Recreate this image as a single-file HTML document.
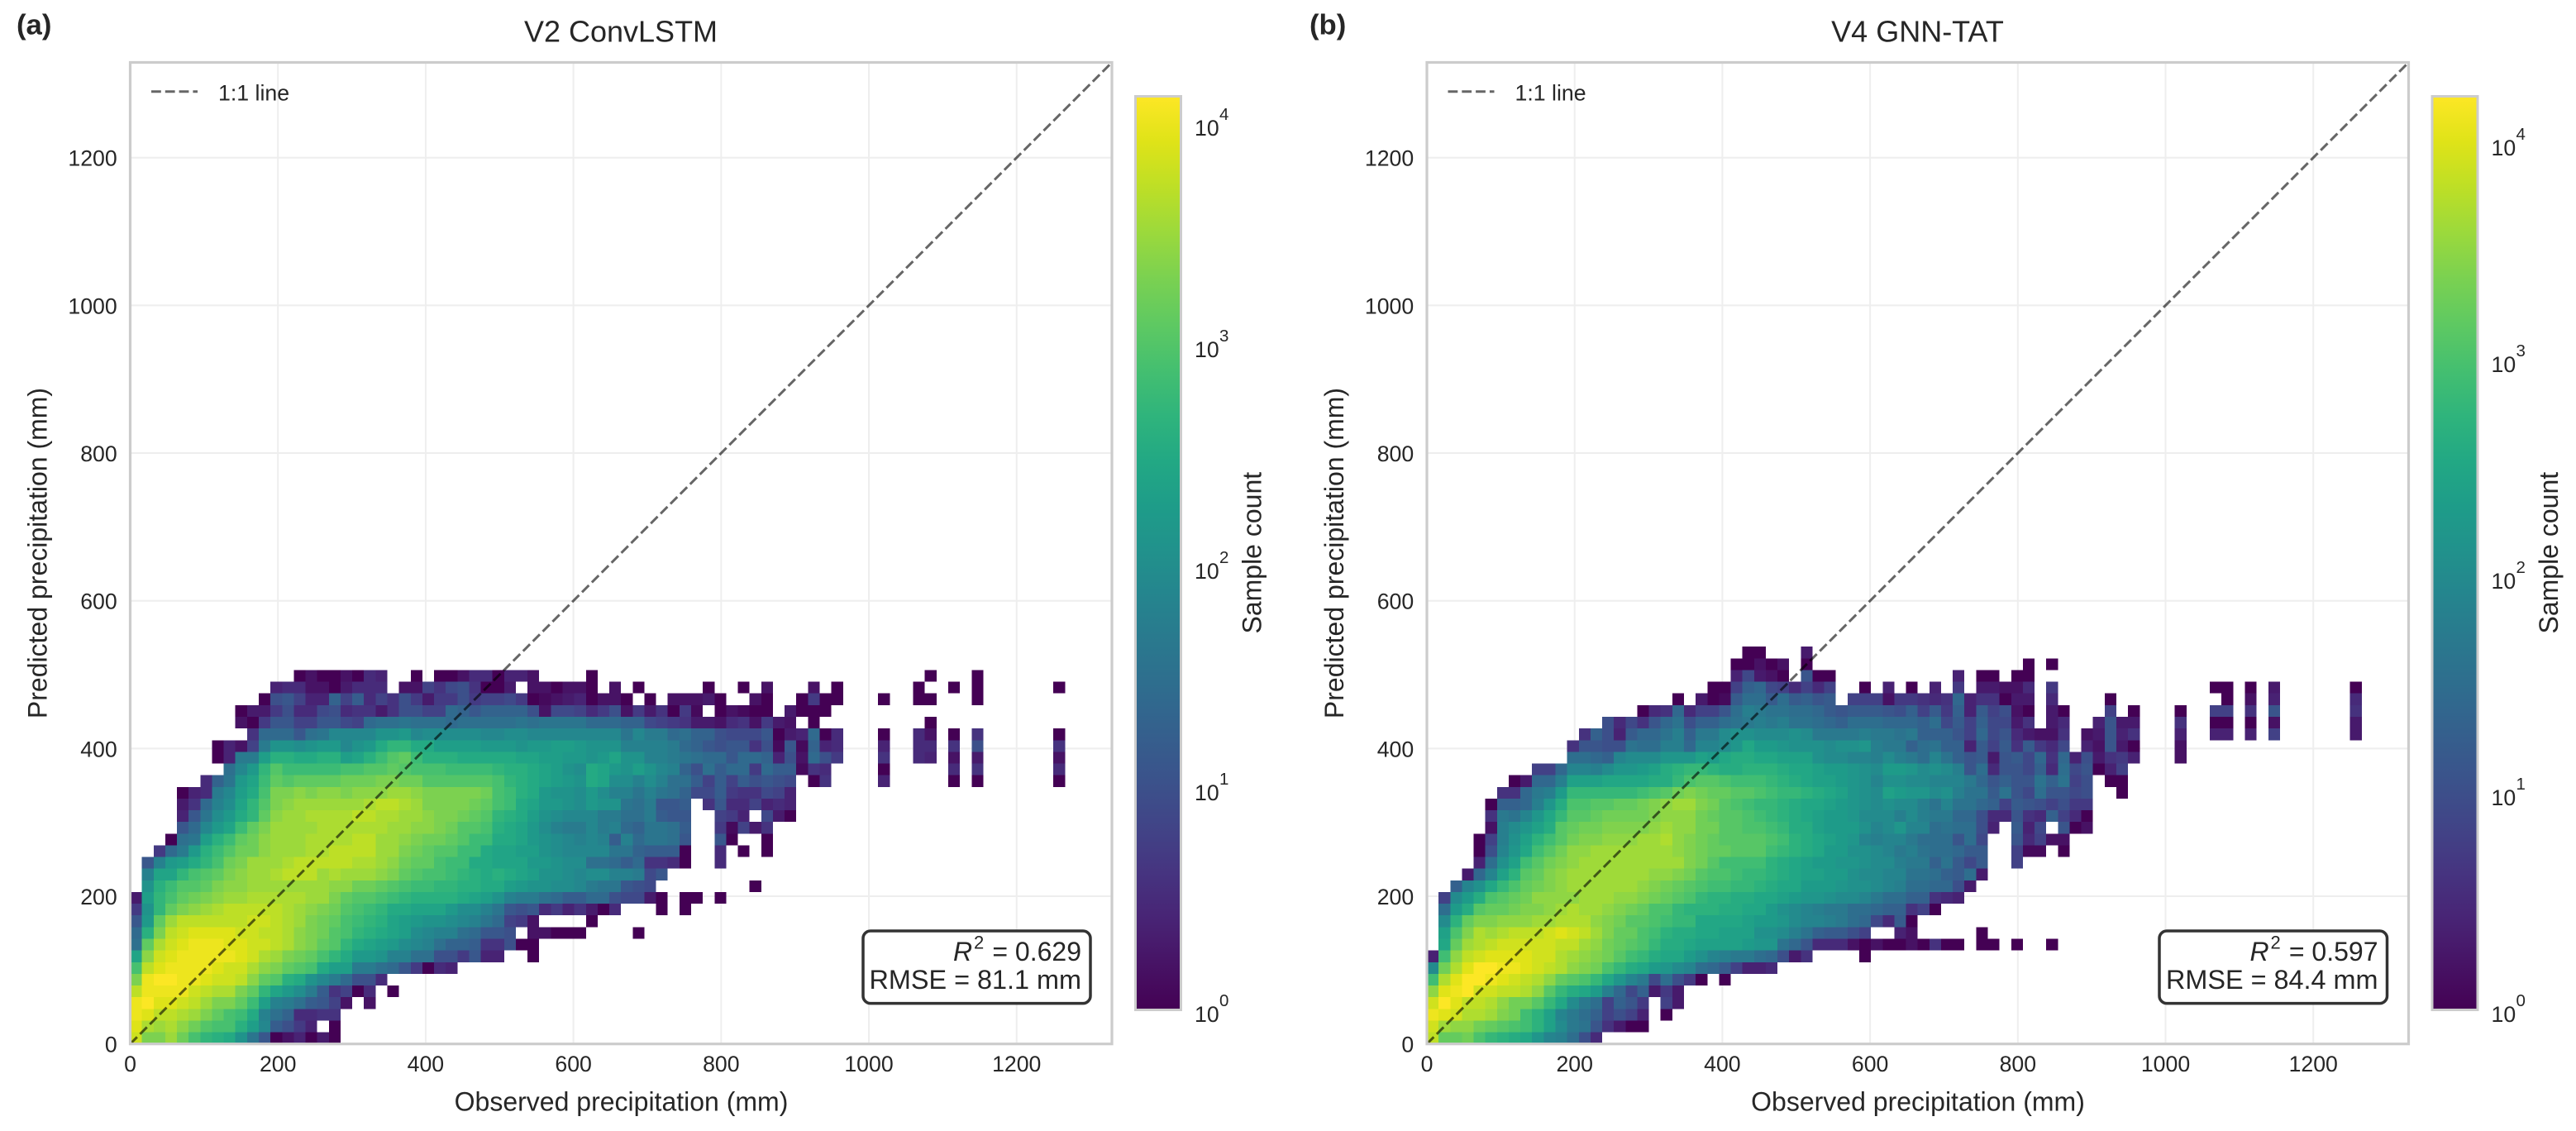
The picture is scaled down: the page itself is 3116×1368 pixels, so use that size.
<!DOCTYPE html>
<html lang="en">
<head>
<meta charset="utf-8">
<title>Observed vs predicted precipitation density</title>
<style>
html,body{margin:0;padding:0;background:#fff;}
svg{display:block;}
text{font-family:"Liberation Sans",Arial,sans-serif;fill:#262626;}
</style>
</head>
<body>
<svg id="figure" xmlns="http://www.w3.org/2000/svg" width="3116" height="1368" viewBox="0 0 3116 1368">
  <defs>
    <linearGradient id="viridis-gradient" x1="0" y1="1" x2="0" y2="0"></linearGradient>
  </defs>
  <rect x="0" y="0" width="3116" height="1368" fill="#ffffff"/>

  <g id="marks-a"></g>
  <g id="marks-b"></g>

  <!-- Panel A static furniture -->
  <g>
    <rect x="157.5" y="75.5" width="1187.5" height="1187.2" fill="none" stroke="#cccccc" stroke-width="3.2"/>
    <text x="20" y="41.7" font-size="34.7" font-weight="bold">(a)</text>
    <text x="751" y="50.7" font-size="36" text-anchor="middle">V2 ConvLSTM</text>
    <text x="751.5" y="1343.3" font-size="32" text-anchor="middle">Observed precipitation (mm)</text>
    <text transform="translate(56.7 669) rotate(-90)" font-size="32" text-anchor="middle">Predicted precipitation (mm)</text>
    <line x1="183" y1="110.7" x2="239" y2="110.7" stroke="#000" stroke-opacity="0.6" stroke-width="3" stroke-dasharray="11.8 5"/>
    <text x="264" y="121.7" font-size="26.7">1:1 line</text>
    <rect x="1044" y="1126" width="275" height="87.6" rx="9" ry="9" fill="#ffffff" stroke="#333333" stroke-width="3.5"/>
    <text x="1153" y="1161.8" font-size="32" font-style="italic">R</text>
    <text x="1178" y="1147.5" font-size="22">2</text>
    <text x="1308" y="1161.8" font-size="32" text-anchor="end">= 0.629</text>
    <text x="1308" y="1196" font-size="32.4" text-anchor="end">RMSE = 81.1 mm</text>
    <rect x="1373.5" y="116.5" width="55" height="1105" fill="url(#viridis-gradient)" stroke="#cccccc" stroke-width="3"/>
    <text transform="translate(1525.7 668.7) rotate(-90)" font-size="32" text-anchor="middle">Sample count</text>
  </g>

  <!-- Panel B static furniture -->
  <g>
    <rect x="1726" y="75.5" width="1187.5" height="1187.2" fill="none" stroke="#cccccc" stroke-width="3.2"/>
    <text x="1584" y="41.7" font-size="34.7" font-weight="bold">(b)</text>
    <text x="2319.5" y="50.7" font-size="36" text-anchor="middle">V4 GNN-TAT</text>
    <text x="2320" y="1343.3" font-size="32" text-anchor="middle">Observed precipitation (mm)</text>
    <text transform="translate(1625.2 669) rotate(-90)" font-size="32" text-anchor="middle">Predicted precipitation (mm)</text>
    <line x1="1751.5" y1="110.7" x2="1807.5" y2="110.7" stroke="#000" stroke-opacity="0.6" stroke-width="3" stroke-dasharray="11.8 5"/>
    <text x="1832.5" y="121.7" font-size="26.7">1:1 line</text>
    <rect x="2612" y="1126" width="275.5" height="87.6" rx="9" ry="9" fill="#ffffff" stroke="#333333" stroke-width="3.5"/>
    <text x="2721.5" y="1161.8" font-size="32" font-style="italic">R</text>
    <text x="2746.5" y="1147.5" font-size="22">2</text>
    <text x="2876.5" y="1161.8" font-size="32" text-anchor="end">= 0.597</text>
    <text x="2876.5" y="1196" font-size="32.4" text-anchor="end">RMSE = 84.4 mm</text>
    <rect x="2942" y="116.5" width="55" height="1105" fill="url(#viridis-gradient)" stroke="#cccccc" stroke-width="3"/>
    <text transform="translate(3094.2 668.7) rotate(-90)" font-size="32" text-anchor="middle">Sample count</text>
  </g>
  <g id="ticks-cb"></g>
</svg>

<script>
// ---- chart data ----
const xTickValues = [0, 200, 400, 600, 800, 1000, 1200];
const yTickValues = [0, 200, 400, 600, 800, 1000, 1200];
const colorbarExponents = [0, 1, 2, 3, 4];
const axisLimit = 1329;
const binWidth = 15.82;
const _ = null;

// Each row = one predicted-precipitation bin (bottom to top); each entry = one observed bin.
// Value = 10 * log10(sample count); _ = empty bin.
const logCountsA = [
[38,33,33,35,32,29,27,26,25,21,16,11,0,2,4,0,3,0],
[39,36,35,36,34,32,30,29,29,26,23,19,12,10,7,4,_,0],
[40,39,37,37,36,35,33,31,29,28,25,18,15,13,5,5,6,6],
[40,41,39,39,38,37,35,33,33,31,28,23,18,17,15,12,11,8,2,_,2],
[37,40,40,40,40,38,37,36,36,33,31,27,24,22,20,17,12,6,8,0,5,_,0],
[33,40,41,41,40,40,39,38,38,37,34,31,30,26,25,21,19,17,14,10,10,5],
[29,37,39,40,40,40,40,39,38,38,36,34,33,31,30,29,25,23,23,17,17,15,14,11,7,0,5,4],
[24,34,38,39,40,40,40,40,40,39,38,36,35,33,32,31,29,27,25,22,22,21,18,18,15,15,10,10,7,11,4,4,_,_,0],
[15,31,36,38,39,40,40,40,39,39,38,38,37,36,34,33,31,30,27,25,24,23,22,20,19,18,15,13,13,12,6,6,10,0,0],
[14,26,33,37,38,39,39,39,39,38,38,37,37,36,34,33,32,30,29,27,26,25,24,23,20,19,18,18,15,14,11,11,10,_,2,2,0,0,0,_,_,_,_,0],
[11,22,31,35,37,37,37,37,37,37,38,38,37,36,35,33,32,31,29,28,27,26,24,23,22,21,21,20,19,18,16,14,8,7,2,_,_,_,_,0],
[7,21,27,31,33,34,35,36,37,37,37,37,37,36,35,34,33,32,30,29,28,27,25,25,24,24,24,22,20,20,18,16,11,10,11,5,7,4,6,3,0,5,_,_,_,0,_,0],
[3,23,27,29,31,32,33,34,35,35,36,36,36,36,36,35,35,33,31,30,30,29,28,27,26,26,26,26,25,24,23,21,18,17,17,15,14,12,12,14,14,10,9,9,3,0,_,0,0,_,0],
[_,21,26,28,30,30,31,33,34,34,35,35,35,35,35,35,35,34,34,32,32,31,30,29,28,28,27,27,26,26,25,25,23,22,21,21,20,20,19,17,16,16,11,10,9,_,_,_,_,_,_,_,_,0],
[_,18,24,24,27,29,30,31,33,34,35,35,36,37,37,37,35,36,35,35,35,34,33,31,30,29,29,28,27,26,25,26,25,24,23,21,21,20,19,20,20,18,18,17,9,11],
[_,11,18,22,23,25,27,29,32,33,35,35,35,36,37,37,37,37,37,36,36,35,34,32,31,31,29,28,28,25,25,24,24,24,22,22,21,20,20,15,15,14,12,14,6,6,5,0,_,_,5],
[_,_,7,14,17,22,26,28,30,32,32,34,35,35,35,36,36,37,37,37,37,35,35,33,32,31,30,30,28,28,25,24,24,23,23,21,20,19,19,19,19,16,16,13,12,12,12,0,_,_,5,_,0,_,0],
[_,_,_,0,15,16,23,26,28,31,32,34,35,35,35,36,36,36,36,37,37,35,35,34,33,32,32,31,30,28,28,25,25,24,22,21,20,19,18,19,18,12,18,14,16,16,15,11,_,_,11,0,_,_,0],
[_,_,_,_,11,14,19,22,24,28,31,33,35,35,35,35,36,36,36,36,36,36,35,35,34,34,33,32,30,30,29,26,25,24,22,20,18,17,17,19,17,18,14,13,16,16,15,12,_,_,7,1,8,3,6],
[_,_,_,_,4,11,16,20,22,25,27,31,34,35,35,36,36,36,36,37,37,36,36,35,35,34,33,33,32,31,30,27,26,25,23,21,20,19,19,19,17,17,15,15,17,12,11,11,_,_,8,7,4,_,9,3,0],
[_,_,_,_,3,6,14,18,20,24,27,30,33,34,35,35,35,35,35,35,36,37,37,36,35,33,33,33,33,32,31,29,28,25,24,22,22,21,20,22,21,21,16,15,17,11,11,12,_,6,11,5,5,8,4,5,4],
[_,_,_,_,0,4,5,17,19,23,25,29,33,33,34,33,34,34,33,34,34,34,35,35,34,33,33,33,33,33,32,29,28,26,25,22,21,21,20,22,20,18,18,16,18,16,15,13,9,9,12,7,6,6,9,8,4],
[_,_,_,_,_,_,5,13,16,22,24,28,31,30,31,31,31,31,32,32,32,33,33,32,32,30,30,30,30,30,30,29,27,26,25,24,23,22,21,25,24,20,20,18,20,18,15,15,12,8,12,8,12,10,11,10,9,_,0,6,_,_,_,_,4,_,_,_,_,_,0,_,0,_,_,_,_,_,_,0],
[_,_,_,_,_,_,_,_,15,19,22,27,30,28,28,28,28,28,29,29,30,30,31,30,29,29,29,28,28,28,28,27,26,26,25,24,23,21,20,25,24,22,21,23,21,19,18,13,10,15,12,14,14,7,14,12,12,1,6,5,_,_,_,_,0,_,_,_,_,_,5,_,6,_,_,_,_,_,_,5],
[_,_,_,_,_,_,_,0,4,17,17,23,26,26,25,25,26,26,23,24,26,28,30,31,28,26,26,26,25,25,25,25,25,24,24,23,23,22,22,21,22,24,21,21,18,18,17,16,15,14,14,11,14,14,13,4,10,2,14,10,7,_,_,_,6,_,_,5,4,_,2,_,3,_,_,_,_,_,_,2],
[_,_,_,_,_,_,_,0,4,2,8,17,21,21,20,21,22,22,19,21,22,25,27,27,25,25,23,23,23,23,22,22,22,21,22,22,23,23,22,21,21,21,18,18,18,18,17,14,13,11,10,11,11,6,10,1,11,1,13,4,5,_,_,_,4,_,_,5,5,_,6,_,10,_,_,_,_,_,_,6],
[_,_,_,_,_,_,_,_,_,_,6,14,14,14,11,15,16,19,19,19,19,21,21,22,19,20,20,20,20,20,19,19,20,20,19,19,19,19,19,19,19,19,16,19,17,17,14,15,13,13,10,9,9,9,11,0,3,4,14,0,5,_,_,_,0,_,_,5,2,_,0,_,6,_,_,_,_,_,_,0],
[_,_,_,_,_,_,_,_,_,2,0,7,11,11,8,8,11,11,9,8,14,15,15,16,15,15,15,14,15,15,15,15,15,16,15,16,16,16,16,14,14,14,13,13,9,8,7,6,3,3,2,5,6,2,7,3,2,_,0,_,_,_,_,_,_,_,_,_,0],
[_,_,_,_,_,_,_,_,_,0,3,3,7,10,5,5,9,10,5,6,6,3,6,10,10,8,8,14,13,11,13,13,13,13,10,2,9,9,8,5,7,10,2,7,3,6,0,7,1,_,0,2,1,0,0,_,3,0,0,0],
[_,_,_,_,_,_,_,_,_,_,_,0,10,11,8,4,4,13,8,12,5,8,6,10,7,3,7,7,10,7,8,8,9,7,0,1,2,3,4,0,2,2,0,_,0,_,2,2,2,3,0,_,_,2,0,_,_,0,7,0,0,_,_,_,0,_,_,0,0,_,_,_,0],
[_,_,_,_,_,_,_,_,_,_,_,_,4,5,5,2,2,0,3,5,5,5,_,2,2,8,6,9,10,6,0,0,3,_,2,2,0,2,2,0,_,2,_,0,_,_,_,_,_,0,_,_,0,_,2,_,_,_,2,_,0,_,_,_,_,_,_,0,_,_,0,_,0,_,_,_,_,_,_,0],
[_,_,_,_,_,_,_,_,_,_,_,_,_,_,0,2,0,0,2,0,5,4,_,_,0,_,0,0,2,5,5,0,4,4,2,_,_,_,_,0,_,_,_,_,_,_,_,_,_,_,_,_,_,_,_,_,_,_,_,_,_,_,_,_,_,_,_,_,0,_,_,_,0]
];

const logCountsB = [
[38,32,32,33,30,28,27,26,25,22,19,18,15,10,5],
[39,36,35,35,33,32,31,30,29,27,24,20,17,16,11,6,3,0,0],
[41,40,39,37,37,36,34,33,29,27,24,19,17,15,13,8,10,8,4,_,0],
[39,42,40,38,38,37,35,33,33,31,28,25,20,17,15,8,13,11,7,_,8,3],
[35,40,41,42,39,39,38,38,37,35,31,28,26,25,23,18,14,9,13,3,7,3],
[29,37,40,42,42,41,40,39,38,37,35,32,31,30,28,25,22,19,17,9,15,10,7,0,_,0],
[20,33,37,40,42,42,41,41,40,39,38,37,35,34,33,30,28,26,25,23,22,20,19,15,14,12,8,4,4,5],
[4,29,35,38,39,40,40,40,40,39,39,37,36,35,34,33,31,29,28,26,25,25,23,21,19,18,17,17,15,14,10,3,6,_,_,_,_,0],
[_,25,32,36,37,38,39,39,39,39,39,38,38,36,35,33,32,31,30,28,26,26,25,24,24,24,24,23,22,22,16,14,11,5,5,5,2,0,2,0,0,2,0,6,0,0,_,0,0,_,0,_,_,0],
[_,24,30,34,37,36,37,38,38,38,39,40,39,38,36,34,32,32,30,29,27,26,26,25,25,24,24,24,21,21,20,18,16,13,12,12,10,8,_,_,4,2,_,_,_,_,_,0],
[_,20,27,32,34,34,35,35,35,36,36,37,37,37,35,34,33,31,31,30,29,28,28,25,25,25,25,24,23,23,22,20,19,19,18,17,15,14,9,5,12,0],
[_,15,23,26,31,32,32,33,34,34,35,36,37,36,36,35,34,33,32,30,30,28,27,27,27,26,26,25,25,23,21,20,19,18,17,17,15,15,14,13,13,6,8,0],
[_,8,20,23,26,30,31,32,33,35,35,35,35,36,36,36,35,35,34,33,32,31,30,28,27,27,26,26,25,25,24,23,22,22,21,20,20,19,17,15,15,13,13,6,5,4],
[_,_,13,19,21,25,28,30,32,33,34,35,36,36,36,36,36,36,35,34,33,32,31,30,29,29,28,28,27,26,25,25,23,23,23,22,21,21,20,19,18,15,15,14,14,10,3],
[_,_,_,3,14,19,24,27,31,32,34,35,36,36,36,36,36,36,36,35,35,34,33,31,30,30,29,28,28,27,26,25,24,24,23,23,21,20,20,19,19,16,16,15,13,12,15,3],
[_,_,_,_,4,15,21,24,29,31,33,34,35,36,36,36,36,36,36,36,36,36,34,33,31,29,29,29,29,27,26,25,24,23,23,22,22,21,20,20,18,17,17,13,16,12,9,12,_,_,8],
[_,_,_,_,0,10,19,22,25,29,31,33,35,35,36,36,36,36,36,36,36,35,34,33,32,32,31,31,31,29,28,27,26,25,23,23,21,21,20,19,17,18,16,15,15,14,12,12,_,_,8,1,1,_,0],
[_,_,_,_,0,8,18,21,24,27,29,31,33,34,34,35,35,35,36,36,37,35,34,33,32,31,31,31,31,30,29,27,26,25,24,23,22,19,18,19,19,17,15,15,15,11,15,9,_,_,11,5,8,2,2],
[_,_,_,_,_,2,18,20,22,24,26,31,32,33,33,34,34,34,34,35,36,35,35,33,33,31,31,30,30,29,28,26,26,24,23,23,23,21,19,20,22,19,19,15,16,15,15,10,4,_,12,4,9,_,11,0,2],
[_,_,_,_,_,6,17,16,19,22,25,28,31,31,32,33,33,33,33,34,35,35,35,33,32,31,31,30,29,28,27,26,25,24,23,23,22,20,20,20,18,20,18,17,17,14,14,10,5,5,11,6,5,13,8,5,0],
[_,_,_,_,_,0,13,13,14,18,22,26,30,30,31,31,32,32,33,34,35,36,36,34,33,31,30,29,28,28,27,26,25,25,24,23,22,21,20,21,20,20,18,16,19,16,16,14,13,8,12,11,10,8,10,7,7],
[_,_,_,_,_,_,6,6,14,17,18,23,28,28,28,28,28,28,29,30,31,33,34,33,32,32,31,31,30,29,28,28,27,26,25,24,22,21,20,24,23,22,22,20,21,18,16,16,12,16,11,9,15,11,11,9,10,_,_,0],
[_,_,_,_,_,_,_,0,3,14,14,18,24,24,24,25,25,25,25,26,26,28,30,31,31,30,29,29,29,28,27,26,25,24,24,23,22,21,19,21,21,20,20,19,19,19,17,14,11,13,11,11,16,13,16,8,10,_,0,0],
[_,_,_,_,_,_,_,_,_,8,8,14,19,19,18,20,22,22,23,24,26,27,28,28,27,26,26,27,27,27,26,25,25,24,23,23,22,21,20,23,23,22,20,21,20,18,11,15,5,11,11,9,13,5,15,9,11,0,4,8],
[_,_,_,_,_,_,_,_,_,_,_,_,15,15,14,13,19,20,20,20,22,22,22,24,23,25,26,26,25,25,24,24,24,21,20,20,19,19,18,20,18,17,15,19,16,13,11,12,3,11,12,9,14,6,14,4,10,3,6,7,4,_,_,_,2],
[_,_,_,_,_,_,_,_,_,_,_,_,6,11,11,10,10,16,15,15,18,18,14,19,19,20,22,25,23,23,22,21,21,21,20,21,21,22,18,17,17,13,15,16,13,13,4,12,8,12,6,12,7,5,9,_,4,2,11,3,0,_,_,_,2],
[_,_,_,_,_,_,_,_,_,_,_,_,_,6,13,10,4,12,14,14,16,18,13,17,17,20,21,21,20,20,20,21,20,17,17,17,17,18,17,17,16,17,13,13,13,11,8,14,9,11,5,3,2,2,6,_,2,3,11,4,6,_,_,_,4,_,_,4,4,_,4,_,8,_,_,_,_,_,_,3],
[_,_,_,_,_,_,_,_,_,_,_,_,_,_,_,10,5,9,6,11,14,16,10,13,13,15,16,17,18,17,18,16,16,15,14,13,15,15,15,14,14,14,13,15,9,12,8,13,9,9,3,6,_,3,5,_,_,4,11,3,3,_,_,_,6,_,_,0,0,_,0,_,2,_,_,_,_,_,_,3],
[_,_,_,_,_,_,_,_,_,_,_,_,_,_,_,_,_,_,0,5,6,14,5,8,8,11,15,18,17,16,16,15,15,14,12,11,12,12,12,11,10,13,8,12,7,13,4,12,8,10,2,0,_,3,0,_,_,_,8,_,0,_,_,_,0,_,_,8,8,_,6,_,11,_,_,_,_,_,_,6],
[_,_,_,_,_,_,_,_,_,_,_,_,_,_,_,_,_,_,_,_,_,0,_,3,0,1,12,15,15,12,15,12,13,11,12,_,8,8,8,2,7,7,6,5,6,14,4,6,6,0,3,3,_,5,_,_,_,_,0,_,_,_,_,_,_,_,_,_,0,_,2,_,4,_,_,_,_,_,_,5],
[_,_,_,_,_,_,_,_,_,_,_,_,_,_,_,_,_,_,_,_,_,_,_,_,0,0,8,13,14,9,8,5,8,5,8,_,_,0,_,4,_,0,_,4,_,7,_,3,3,2,2,5,_,7,_,_,_,_,_,_,_,_,_,_,_,_,_,0,0,_,0,_,3,_,_,_,_,_,_,0],
[_,_,_,_,_,_,_,_,_,_,_,_,_,_,_,_,_,_,_,_,_,_,_,_,_,_,4,9,3,2,0,_,11,0,0,_,_,_,_,_,_,_,_,_,_,4,_,0,0,_,0,0],
[_,_,_,_,_,_,_,_,_,_,_,_,_,_,_,_,_,_,_,_,_,_,_,_,_,_,0,0,2,0,2,_,0,_,_,_,_,_,_,_,_,_,_,_,_,_,_,_,_,_,_,0,_,0],
[_,_,_,_,_,_,_,_,_,_,_,_,_,_,_,_,_,_,_,_,_,_,_,_,_,_,_,0,0,_,_,_,3]
];

const viridisStops = ["#440154","#471365","#482475","#463480","#414487","#3b528b","#355f8d","#2f6c8e","#2a788e","#25848e","#21918c","#1e9c89","#22a884","#2fb47c","#44bf70","#5ec962","#7ad151","#9bd93c","#bddf26","#dfe318","#fde725"];

// ---- helpers ----
const SVGNS = "http://www.w3.org/2000/svg";
function make(tag, attrs, parent) {
  const el = document.createElementNS(SVGNS, tag);
  for (const k in attrs) el.setAttribute(k, attrs[k]);
  parent.appendChild(el);
  return el;
}
function hexToRgb(h) {
  return [parseInt(h.slice(1,3),16), parseInt(h.slice(3,5),16), parseInt(h.slice(5,7),16)];
}
function viridis(t) {
  const c = Math.max(0, Math.min(1, t)) * (viridisStops.length - 1);
  const i = Math.min(Math.floor(c), viridisStops.length - 2);
  const f = c - i;
  const a = hexToRgb(viridisStops[i]);
  const b = hexToRgb(viridisStops[i + 1]);
  const m = a.map((v, k) => Math.round(v + (b[k] - v) * f));
  return "rgb(" + m.join(",") + ")";
}

const gradient = document.getElementById("viridis-gradient");
viridisStops.forEach((c, i) => {
  make("stop", {offset: (i / (viridisStops.length - 1)), "stop-color": c}, gradient);
});

function drawPanel(groupId, prefix, counts, left, right, cbLeft, decadePx) {
  const top = 75.5, bottom = 1262.7;
  const cbBottom = 1220, cbTop = 118;
  const maxDecades = (cbBottom - cbTop) / decadePx;
  const xScale = v => left + v * (right - left) / axisLimit;
  const yScale = v => bottom - v * (bottom - top) / axisLimit;
  const cbScale = k => cbBottom - k * decadePx;
  const g = document.getElementById(groupId);

  // gridlines
  xTickValues.forEach(v => {
    const l = make("line", {x1: xScale(v), x2: xScale(v), y1: top, y2: bottom, stroke: "#eeeeee", "stroke-width": 2}, g);
    
    
  });
  yTickValues.forEach(v => {
    const l = make("line", {x1: left, x2: right, y1: yScale(v), y2: yScale(v), stroke: "#eeeeee", "stroke-width": 2}, g);
    
    
  });

  // heatmap cells
  counts.forEach((row, r) => {
    row.forEach((v, c) => {
      if (v === null || v === undefined) return;
      const x0 = xScale(binWidth * c), x1 = xScale(binWidth * (c + 1));
      const y0 = yScale(binWidth * (r + 1)), y1 = yScale(binWidth * r);
      const cell = make("rect", {x: x0, y: y0, width: x1 - x0, height: y1 - y0,
        fill: viridis((v / 10) / maxDecades), "shape-rendering": "crispEdges"}, g);
      
      
    });
  });

  // 1:1 reference line
  const ref = make("line", {x1: xScale(0), y1: yScale(0), x2: xScale(axisLimit), y2: yScale(axisLimit),
    stroke: "#000", "stroke-opacity": 0.6, "stroke-width": 3, "stroke-dasharray": "11.8 5"}, g);
  
  

  // tick labels
  xTickValues.forEach(v => {
    const t = make("text", {x: xScale(v), y: 1296, "font-size": 26.67, "text-anchor": "middle"}, g);
    t.textContent = String(v);
    
    
  });
  yTickValues.forEach(v => {
    const t = make("text", {x: left - 15.8, y: yScale(v) + 10, "font-size": 26.67, "text-anchor": "end"}, g);
    t.textContent = String(v);
    
    
  });

  // colorbar tick labels
  const cbGroup = document.getElementById("ticks-cb");
  colorbarExponents.forEach(k => {
    const base = make("text", {x: cbLeft + 73, y: cbScale(k) + 16, "font-size": 26.67}, cbGroup);
    base.textContent = "10";
    
    
    const sup = make("text", {x: cbLeft + 103, y: cbScale(k) - 3, "font-size": 20.5}, cbGroup);
    sup.textContent = String(k);
    
    
  });
}

drawPanel("marks-a", "a", logCountsA, 157.5, 1345, 1372, 268);
drawPanel("marks-b", "b", logCountsB, 1726, 2913.5, 2940.5, 262);
</script>
</body>
</html>
